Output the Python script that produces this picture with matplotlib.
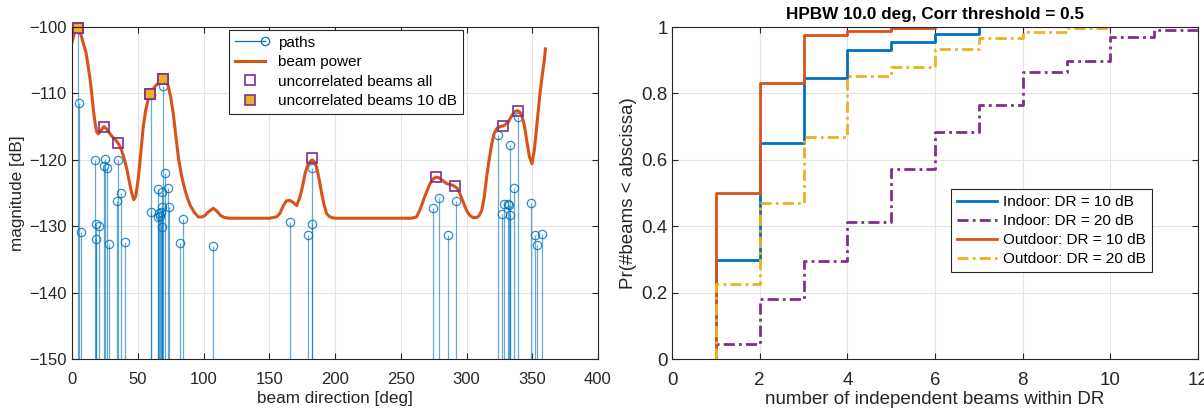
import numpy as np
import matplotlib
matplotlib.use("Agg")
import matplotlib.pyplot as plt
from matplotlib.lines import Line2D
from matplotlib.legend_handler import HandlerLine2D

plt.rcParams['font.family'] = ['Liberation Sans', 'DejaVu Sans']

# ---------------- data: left panel ----------------
path_dir = [4.5, 5.1, 7.1, 17.2, 18.2, 18.2, 20.3, 24.6, 25.1, 26.4, 28.4, 34.2, 35.2, 37.5, 40.5,
            59.8, 59.8, 65.1, 65.6, 66.2, 66.9, 67.5, 68.2, 68.4, 68.4, 69.5, 70.4, 72.7, 73.7,
            82.1, 84.1, 107.5, 165.5, 179.2, 182.5, 182.7, 274.8, 278.8, 286.2, 291.8,
            324.2, 326.8, 328.8, 331.3, 332.6, 333.0, 333.0, 335.9, 339.4, 348.8, 351.9, 353.8, 357.2]
path_mag = [-100.3, -111.4, -130.9, -120.0, -129.6, -132.0, -129.9, -121.0, -119.9, -121.3, -132.7,
            -126.2, -120.1, -125.0, -132.4,
            -110.3, -127.9, -128.6, -124.4, -128.0, -128.4, -127.8, -124.8, -127.1, -130.1, -108.9,
            -122.0, -124.2, -127.1,
            -132.6, -128.9, -133.0, -129.4, -131.3, -121.2, -129.6, -127.2, -125.8, -131.3, -126.2,
            -116.3, -128.1, -126.6, -126.7, -126.8, -117.7, -128.3, -124.2, -113.5, -126.5, -131.3,
            -132.8, -131.1]

beam_dir = [0, 2, 4, 6, 7.3, 8.5, 10.6, 12, 13.7, 15, 16.2, 17.5, 18.8, 20, 22, 24.3, 26.5, 28.9,
            31, 34, 36, 37.8, 39.5, 41.6, 43.5, 45.4, 47, 48.5, 50.4, 52.3, 54.2, 56, 58, 60.6,
            62.5, 64.4, 67, 69.2, 71.2, 73.2, 75, 77, 79, 81, 83.4, 86, 88, 90, 93, 96, 99, 101,
            104, 107.5, 110.5, 113, 116, 120, 130, 140, 150, 155.6, 158, 160.7, 163, 165.5, 168,
            170.8, 173.4, 175.3, 177.2, 179, 181, 182.7, 184.3, 186, 188, 189.9, 191.7, 193.6,
            195.5, 197.5, 200, 220, 240, 258, 262, 264.5, 267.2, 269.7, 272.2, 274.5, 277, 279,
            281, 283, 285, 287, 289, 291, 293, 295, 297, 298.9, 300.8, 302.7, 305, 307.8, 309.7,
            311.6, 313.5, 315.3, 317.2, 319.2, 321, 323, 325.5, 328, 330, 331.8, 333.7, 335.6,
            337.3, 338.9, 340.5, 342, 344, 345.8, 347.8, 349.8, 351.6, 353.4, 355.9, 357.5,
            359.2, 360]
beam_pow = [-102.3, -100.8, -100.2, -100.6, -101.5, -102.4, -103.8, -105.5, -107.8, -110.0,
            -112.4, -114.4, -115.8, -116.1, -115.6, -115.0, -115.4, -116.1, -116.6, -117.2,
            -117.8, -118.6, -119.7, -121.3, -123.2, -125.0, -126.0, -125.5, -122.8, -119.0,
            -115.0, -112.6, -110.8, -109.7, -109.1, -108.7, -108.2, -107.9, -108.0, -108.9,
            -110.5, -113.0, -116.5, -119.8, -122.5, -124.6, -125.9, -126.9, -127.9, -128.6,
            -128.6, -128.4, -127.8, -127.3, -127.8, -128.4, -128.7, -128.8, -128.8, -128.8,
            -128.8, -128.6, -128.1, -126.9, -126.2, -126.1, -126.4, -126.9, -125.6, -124.0,
            -122.1, -120.9, -120.3, -120.0, -120.3, -121.1, -123.0, -125.1, -126.8, -128.1,
            -128.5, -128.7, -128.8, -128.8, -128.8, -128.8, -128.6, -127.6, -126.1, -124.8,
            -123.6, -122.9, -122.6, -122.7, -123.0, -123.3, -123.6, -123.7, -123.8, -124.0,
            -124.3, -125.1, -126.1, -127.1, -127.9, -128.4, -128.7, -128.7, -128.4, -127.6,
            -125.6, -122.6, -120.0, -117.6, -116.0, -115.3, -115.0, -114.9, -114.6, -114.3,
            -113.6, -113.0, -112.7, -112.6, -112.8, -113.3, -114.8, -117.1, -119.5, -120.6,
            -118.5, -115.0, -110.0, -107.4, -105.0, -103.3]

uncorr_dir = [4.3, 24.1, 35.2, 59.5, 69.2, 182.7, 277.0, 291.0, 328.0, 338.9]
uncorr_mag = [-100.1, -115.1, -117.4, -110.1, -107.9, -119.7, -122.6, -123.9, -114.9, -112.6]
uncorr10_dir = [4.3, 59.5, 69.2]
uncorr10_mag = [-100.1, -110.1, -107.9]

# ---------------- data: right panel ----------------
# CDF level after each count n = 1, 2, 3, ...
indoor_10 = [0.297, 0.650, 0.845, 0.932, 0.955, 0.980, 1.000]
indoor_20 = [0.045, 0.180, 0.296, 0.413, 0.571, 0.683, 0.766, 0.864, 0.898, 0.970, 0.990, 1.000]
outdoor_10 = [0.500, 0.831, 0.976, 0.989, 0.997, 1.000]
outdoor_20 = [0.227, 0.470, 0.668, 0.851, 0.879, 0.933, 0.968, 0.985, 0.998, 1.000]
series_labels = ['Indoor: DR = 10 dB', 'Indoor: DR = 20 dB', 'Outdoor: DR = 10 dB', 'Outdoor: DR = 20 dB']

# ---------------- styling ----------------
BLUE = '#0072BD'
ORANGE = '#D95319'
YELLOW = '#EDB120'
PURPLE = '#7E2F8E'
AXC = '#262626'
GRIDC = '#e3e3e3'
LEGFS = 11

fig = plt.figure(figsize=(12.04, 4.19), dpi=100)
ax1 = fig.add_axes([72/1204, 1-359/419, 526/1204, 332/419])
ax2 = fig.add_axes([672/1204, 1-359/419, 526/1204, 332/419])

def style_axes(ax, fs, ypad):
    for s in ax.spines.values():
        s.set_color(AXC)
        s.set_linewidth(0.8)
    ax.tick_params(direction='in', colors=AXC, labelsize=fs, length=4, width=0.8,
                   top=True, right=True)
    ax.tick_params(axis='x', pad=9)
    ax.tick_params(axis='y', pad=ypad)
    ax.grid(True, color=GRIDC, linewidth=0.8)
    ax.set_axisbelow(True)

# ---- left ----
style_axes(ax1, 12, 4)
ml, sl, bl = ax1.stem(path_dir, path_mag, bottom=-200, basefmt=' ')
plt.setp(sl, color=BLUE, linewidth=0.9, alpha=0.6)
plt.setp(ml, color=BLUE, markerfacecolor='none', markersize=6, markeredgewidth=0.9, alpha=0.8)
ax1.plot(beam_dir, beam_pow, color=ORANGE, linewidth=2.2, label='beam power')
ax1.plot(uncorr_dir, uncorr_mag, 's', markersize=7.5, markerfacecolor='none', clip_on=False,
         markeredgecolor=PURPLE, markeredgewidth=1.2, linestyle='none', label='uncorrelated beams all')
ax1.plot(uncorr10_dir, uncorr10_mag, 's', markersize=7.5, markerfacecolor=YELLOW, clip_on=False,
         markeredgecolor=PURPLE, markeredgewidth=1.2, linestyle='none', label='uncorrelated beams 10 dB')
ax1.set_xlim(0, 400)
ax1.set_ylim(-150, -100)
ax1.set_xticks(np.arange(0, 401, 50))
ax1.set_yticks(np.arange(-150, -99, 10))
ax1.set_xlabel('beam direction [deg]', fontsize=12.3, color=AXC, labelpad=3)
ax1.set_ylabel('magnitude [dB]', fontsize=12.3, color=AXC, labelpad=3)

hp = Line2D([], [], color=BLUE, lw=0.9, marker='o', markerfacecolor='none', markersize=6)
hb = Line2D([], [], color=ORANGE, lw=2.2)
hu = Line2D([], [], color=PURPLE, lw=0, marker='s', markerfacecolor='none', markersize=7.5, markeredgewidth=1.2)
hu10 = Line2D([], [], color=PURPLE, lw=0, marker='s', markerfacecolor=YELLOW, markersize=7.5, markeredgewidth=1.2)

class PathHandler(HandlerLine2D):
    def create_artists(self, legend, orig_handle, xdescent, ydescent, width, height, fontsize, trans):
        y = height / 2 - ydescent
        ln = Line2D([-xdescent, -xdescent + width], [y, y], color=BLUE, lw=0.9, transform=trans)
        mk = Line2D([-xdescent + width], [y], color=BLUE, lw=0, marker='o', markerfacecolor='none',
                    markersize=6, markeredgewidth=0.9, transform=trans)
        return [ln, mk]

leg1 = ax1.legend([hp, hb, hu, hu10], ['paths', 'beam power', 'uncorrelated beams all',
                                        'uncorrelated beams 10 dB'],
                  handler_map={hp: PathHandler()},
                  loc='upper left', bbox_to_anchor=(0.298, 0.992), fontsize=LEGFS,
                  fancybox=False, framealpha=1, edgecolor=AXC, handlelength=2.0,
                  borderpad=0.4, labelspacing=0.36, handletextpad=0.8, borderaxespad=0)
leg1.get_frame().set_linewidth(0.8)

# ---- right ----
style_axes(ax2, 13.5, 3)
def stairs(ax, levels, **kw):
    x = [1] + list(range(1, len(levels) + 1))
    y = [0] + list(levels)
    return ax.step(x, y, where='post', **kw)

dashdot = (0, (4, 1.5, 1, 1.5))
stairs(ax2, indoor_10, color=BLUE, linewidth=2, label=series_labels[0])
stairs(ax2, indoor_20, color=PURPLE, linewidth=2, linestyle=dashdot, label=series_labels[1])
stairs(ax2, outdoor_10, color=ORANGE, linewidth=2, label=series_labels[2])
stairs(ax2, outdoor_20, color=YELLOW, linewidth=2, linestyle=dashdot, label=series_labels[3])
ax2.set_xlim(0, 12)
ax2.set_ylim(0, 1)
ax2.set_xticks(np.arange(0, 13, 2))
ax2.set_yticks(np.arange(0, 1.01, 0.2))
ax2.set_yticklabels(['0', '0.2', '0.4', '0.6', '0.8', '1'])
ax2.set_xlabel('number of independent beams within DR', fontsize=13.5, color=AXC, labelpad=2)
ax2.set_ylabel('Pr(#beams < abscissa)', fontsize=13.5, color=AXC, labelpad=3)
ax2.set_title('HPBW 10.0 deg, Corr threshold = 0.5', fontsize=12.3, fontweight='bold', pad=6)
leg2 = ax2.legend(loc='upper left', bbox_to_anchor=(0.53, 0.512), fontsize=LEGFS,
                  fancybox=False, framealpha=1, edgecolor=AXC, handlelength=2.6,
                  borderpad=0.4, labelspacing=0.33, handletextpad=0.4, borderaxespad=0)
leg2.get_frame().set_linewidth(0.8)

fig.savefig('out.png', dpi=100)
